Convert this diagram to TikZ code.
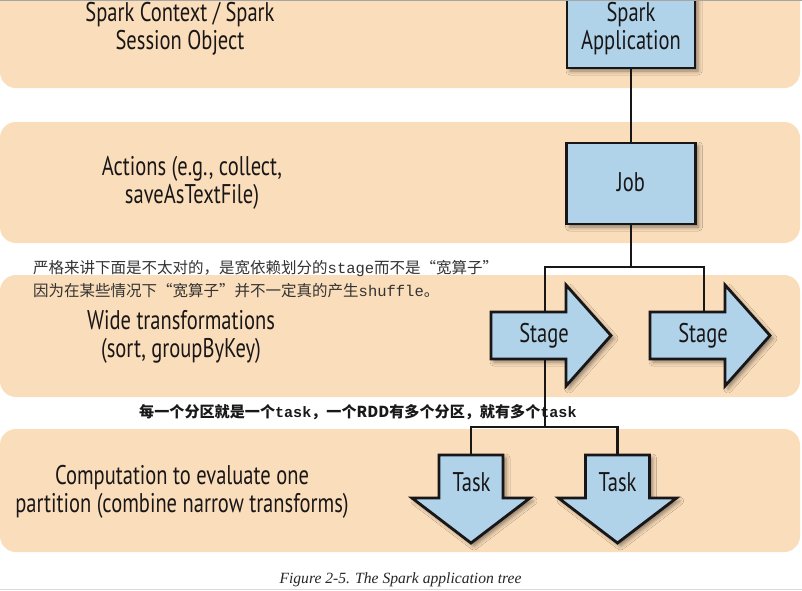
\documentclass[tikz,border=0pt]{standalone}
\usepackage{fontspec}
\setmainfont{PT Sans}[FakeStretch=0.76]
\newfontfamily\cjk{Noto Sans CJK SC}
\newfontfamily\monof{Liberation Mono}
\newfontfamily\capfont{Liberation Serif}
\usetikzlibrary{shadows.blur}
\definecolor{bandc}{RGB}{250,221,186}
\definecolor{boxc}{RGB}{176,211,234}
\definecolor{inkc}{RGB}{25,22,23}
\tikzset{
  band/.style={fill=bandc, rounded corners=16pt},
  bigtxt/.style={font=\fontsize{27}{28}\selectfont, text=inkc, align=center, inner sep=0pt},
  box/.style={draw=inkc, line width=2.8pt, fill=boxc, inner sep=0pt,
    blur shadow={shadow xshift=3pt, shadow yshift=-3pt, shadow blur radius=4pt, shadow opacity=45}},
  arrowshape/.style={draw=inkc, line width=2.8pt, fill=boxc, line join=miter,
    blur shadow={shadow xshift=3pt, shadow yshift=-3pt, shadow blur radius=4pt, shadow opacity=45}},
  conn/.style={draw=inkc, line width=2.6pt, line join=miter},
  note/.style={font=\cjk\fontsize{15.5}{18}\selectfont, text=black!80, anchor=west, inner sep=0pt},
  notebold/.style={font=\cjk\bfseries\fontsize{15.1}{18}\selectfont, text=black!90, anchor=west, inner sep=0pt},
}
\begin{document}
\begin{tikzpicture}[x=1pt, y=-1pt]
\useasboundingbox (0,0) rectangle (802,590);
\fill[white] (0,0) rectangle (802,590);
% bands
\fill[band] (0,-40) rectangle (800,88);
\fill[band] (0,122) rectangle (800,243);
\fill[band] (0,275) rectangle (800,397);
\fill[band] (0,429) rectangle (800,552);
% left labels
\node[bigtxt] (l1) at (180,29) {Spark Context / Spark\\Session Object};
\node[bigtxt] (l2) at (192,183) {Actions (e.g., collect,\\saveAsTextFile)};
\node[bigtxt] (l3) at (181,337) {Wide transformations\\(sort, groupByKey)};
\node[bigtxt] (l4) at (182,492) {Computation to evaluate one\\partition (combine narrow transforms)};
% boxes
\node[box, minimum width=128pt, minimum height=100pt] (app) at (631,18) {};
\node[bigtxt] (apptxt) at (631,29) {Spark\\Application};
\node[box, minimum width=129pt, minimum height=81pt] (job) at (631,183.5) {};
\node[bigtxt] (jobtxt) at (631,182) {Job};
% fork coordinates
\coordinate (f1) at (631,267);
\coordinate (f1l) at (545,267);
\coordinate (f1r) at (704,267);
\coordinate (st2top) at (704,313);
\coordinate (f2) at (545,427);
\coordinate (t1l) at (471,427);
\coordinate (t2r) at (617.5,427);
\coordinate (tk1top) at (471,456);
\coordinate (tk2top) at (617.5,456);
% connectors
\draw[conn] (app.south) -- (job.north);
\draw[conn] (job.south) -- (f1);
\draw[conn] (st2top) -- (f1r) -- (f1l) -- (f2);
\draw[conn] (tk1top) -- (t1l) -- (t2r) -- (tk2top);
% stage arrows
\draw[arrowshape] (491,312) -- (566,312) -- (566,285) -- (611,335.5) -- (566,386) -- (566,359) -- (491,359) -- cycle;
\draw[arrowshape] (650,312) -- (725,312) -- (725,285) -- (770,335.5) -- (725,386) -- (725,359) -- (650,359) -- cycle;
\node[bigtxt] (st1) at (544,336) {Stage};
\node[bigtxt] (st2) at (703,336) {Stage};
% task arrows
\draw[arrowshape] (439,455) -- (503,455) -- (503,498) -- (530,498) -- (471,543) -- (412,498) -- (439,498) -- cycle;
\draw[arrowshape] (585.5,455) -- (649.5,455) -- (649.5,498) -- (676.5,498) -- (617.5,543) -- (558.5,498) -- (585.5,498) -- cycle;
\node[bigtxt] (tk1) at (471.5,482) {Task};
\node[bigtxt] (tk2) at (617.5,482) {Task};
% notes
\node[note] (n1) at (33,269) {严格来讲下面是不太对的，是宽依赖划分的{\monof stage}而不是“宽算子”};
\node[note] (n2) at (33,291) {因为在某些情况下“宽算子”并不一定真的产生{\monof shuffle}。};
\node[notebold] (n3) at (139,412) {每一个分区就是一个{\monof task}，一个RDD有多个分区，就有多个{\monof task}};
% caption
\node[font=\capfont\itshape\fontsize{15.6}{17}\selectfont, text=black!85, inner sep=0pt] (cap) at (400.5,580) {Figure 2-5. The Spark application tree};
% image borders
\draw[gray!70, line width=1.2pt] (0,0.6) -- (802,0.6);
\draw[gray!30, line width=1pt] (0,589.5) -- (802,589.5);
\end{tikzpicture}
\end{document}
